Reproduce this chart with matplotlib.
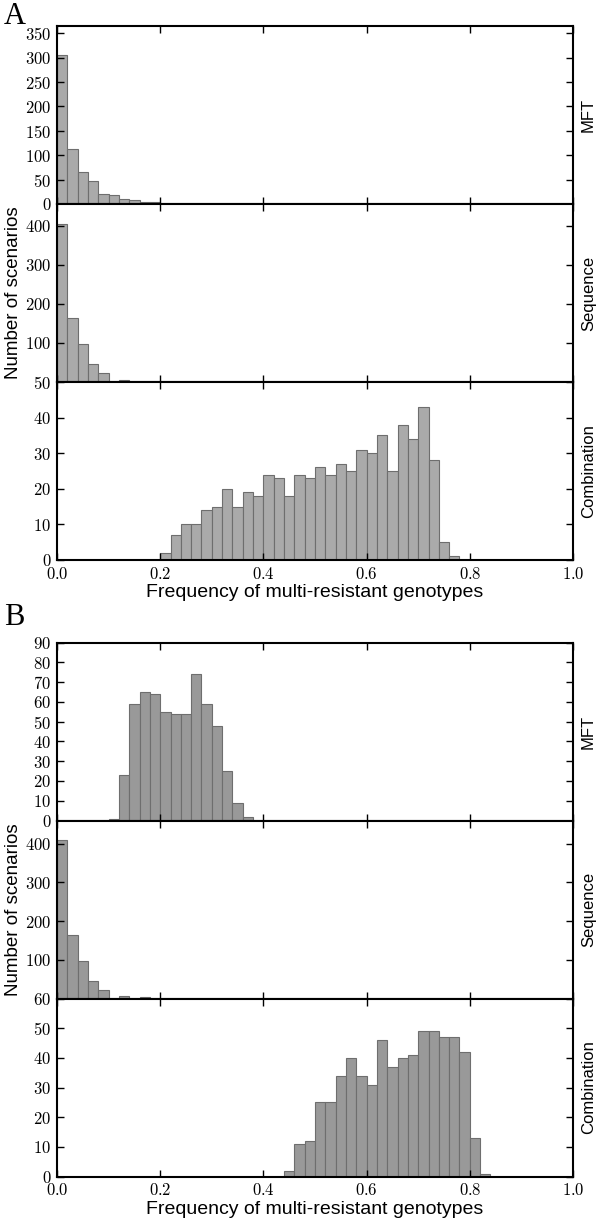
import numpy as np
import matplotlib
matplotlib.use("Agg")
import matplotlib.pyplot as plt
from matplotlib.ticker import FuncFormatter

plt.rcParams['mathtext.fontset'] = 'cm'
plt.rcParams['font.family'] = ['Liberation Sans', 'DejaVu Sans']

# histogram bins: 0.02 wide over [0, 1]
bin_width = 0.02

# counts per panel, starting at the given bin edge
a_mft_start = 0.00
a_mft = [305, 112, 66, 47, 21, 19, 10, 8, 4, 5]
a_seq_start = 0.00
a_seq = [405, 164, 97, 46, 22, 0, 4]
a_comb_start = 0.20
a_comb = [2, 7, 10, 10, 14, 15, 20, 15, 19, 18, 24, 23, 18, 24, 23,
          26, 24, 27, 25, 31, 30, 35, 25, 38, 34, 43, 28, 5, 1]

b_mft_start = 0.10
b_mft = [1, 23, 59, 65, 64, 55, 54, 54, 74, 59, 48, 25, 9, 2]
b_seq_start = 0.00
b_seq = [409, 164, 97, 45, 21, 0, 6, 0, 3]
b_comb_start = 0.44
b_comb = [2, 11, 12, 25, 25, 34, 40, 34, 31, 46, 37, 40, 41, 49, 49,
          47, 47, 42, 13, 1]

row_names = ["MFT", "Sequence", "Combination"]
xticks = [0.0, 0.2, 0.4, 0.6, 0.8, 1.0]

panels = [
    ("A", 26, 2, "#aaaaaa",
     [(a_mft_start, a_mft, 365, np.arange(0, 351, 50)),
      (a_seq_start, a_seq, 456, np.arange(0, 401, 100)),
      (a_comb_start, a_comb, 50, np.arange(0, 51, 10))]),
    ("B", 642.5, 603, "#999999",
     [(b_mft_start, b_mft, 90, np.arange(0, 91, 10)),
      (b_seq_start, b_seq, 460, np.arange(0, 401, 100)),
      (b_comb_start, b_comb, 60, np.arange(0, 61, 10))]),
]

W, H = 600, 1218
fig = plt.figure(figsize=(W / 100, H / 100), dpi=100)

math_fmt = FuncFormatter(lambda v, p: r"$%g$" % v)
math_fmt_x = FuncFormatter(lambda v, p: r"$%.1f$" % v)

ph = 178
for letter, top, letter_y, color, rows in panels:
    fig.text(4 / W, 1 - letter_y / H, letter, family='Liberation Serif',
             fontsize=22, va='top', ha='left')
    for i, (start, counts, ymax, yt) in enumerate(rows):
        y0 = top + i * ph
        ax = fig.add_axes([57 / W, 1 - (y0 + ph) / H, 516 / W, ph / H])
        lefts = start + bin_width * np.arange(len(counts))
        ax.bar(lefts, counts, width=bin_width, align='edge', color=color,
               edgecolor='#6e6e6e', linewidth=0.8)
        ax.set_xlim(0, 1)
        ax.set_ylim(0, ymax)
        ax.set_xticks(xticks)
        ax.set_yticks(yt)
        ax.yaxis.set_major_formatter(math_fmt)
        ax.xaxis.set_major_formatter(math_fmt_x)
        ax.tick_params(direction='in', top=True, right=True, length=5,
                       width=1, labelsize=12, pad=4)
        for s in ax.spines.values():
            s.set_linewidth(1.5)
        if i == 1:
            ax.get_yticklabels()[0].set_visible(False)
            ax.set_ylabel("Number of scenarios", fontsize=13.5)
            ax.yaxis.set_label_coords(-0.068, 0.5)
        if i < 2:
            ax.tick_params(labelbottom=False)
        else:
            ax.set_xlabel("Frequency of multi-resistant genotypes",
                          fontsize=14, labelpad=2)
        ax.text(1.03, 0.5, row_names[i], transform=ax.transAxes,
                rotation=90, va='center', ha='center', fontsize=12)

fig.savefig("out.png", dpi=100)
